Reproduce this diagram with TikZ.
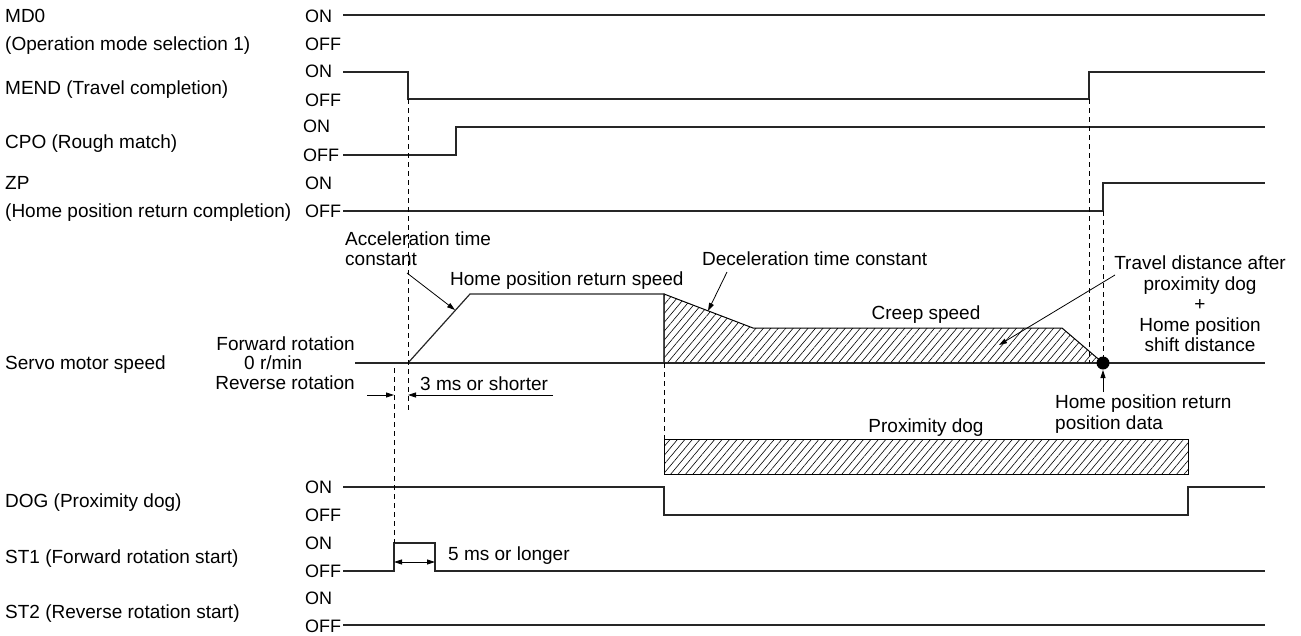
\documentclass[tikz,border=0pt]{standalone}
\usepackage{fontspec}
\setmainfont{Liberation Sans}
\usetikzlibrary{arrows.meta,patterns.meta}
\begin{document}
\begin{tikzpicture}[x=1pt,y=-1pt,
  txt/.style={font=\fontsize{19}{21}\selectfont, inner sep=0pt, anchor=base west},
  txte/.style={txt, anchor=base east},
  oo/.style={font=\fontsize{18}{20}\selectfont, inner sep=0pt, anchor=base west},
  sig/.style={line width=1.2pt, line join=miter, color=black!85},
  dsh/.style={line width=0.8pt, dash pattern=on 5pt off 4pt},
  hatch/.style={pattern={Lines[angle=50,distance=5.7pt,line width=0.6pt]}},
  arr/.style={line width=0.8pt, -{Triangle[length=8pt,width=5pt]}},
  darr/.style={line width=0.8pt, {Triangle[length=8pt,width=5pt]}-{Triangle[length=8pt,width=5pt]}}
]
\useasboundingbox (0,0) rectangle (1301,635);

% left labels
\node[txt] (lmd0) at (5,22) {MD0};
\node[txt] (lmd0b) at (5,50) {(Operation mode selection 1)};
\node[txt] (lmend) at (5,94) {MEND (Travel completion)};
\node[txt] (lcpo) at (5,148) {CPO (Rough match)};
\node[txt] (lzp) at (5,189) {ZP};
\node[txt] (lzpb) at (5,217) {(Home position return completion)};
\node[txt] (lspd) at (5,369) {Servo motor speed};
\node[txt] (ldog) at (5,507) {DOG (Proximity dog)};
\node[txt] (lst1) at (5,563) {ST1 (Forward rotation start)};
\node[txt] (lst2) at (5,618) {ST2 (Reverse rotation start)};

% ON / OFF
\node[oo] (on1) at (305,22) {ON};
\node[oo] (off1) at (305,50) {OFF};
\node[oo] (on2) at (305,77) {ON};
\node[oo] (off2) at (305,106) {OFF};
\node[oo] (on3) at (303,132) {ON};
\node[oo] (off3) at (303,161) {OFF};
\node[oo] (on4) at (305,189) {ON};
\node[oo] (off4) at (305,217) {OFF};
\node[oo] (on5) at (305,493) {ON};
\node[oo] (off5) at (305,521) {OFF};
\node[oo] (on6) at (305,549) {ON};
\node[oo] (off6) at (305,577) {OFF};
\node[oo] (on7) at (305,604) {ON};
\node[oo] (off7) at (305,632) {OFF};

% signals
\draw[sig] (343,15) -- (1265,15);
\draw[sig] (343,72) -- (408,72) -- (408,99) -- (1089,99) -- (1089,72) -- (1265,72);
\draw[sig] (343,155) -- (456,155) -- (456,127) -- (1265,127);
\draw[sig] (343,211) -- (1103,211) -- (1103,183) -- (1265,183);
\draw[sig] (343,487) -- (664,487) -- (664,515) -- (1188,515) -- (1188,487) -- (1265,487);
\draw[sig] (343,571) -- (394,571) -- (394,543) -- (435,543) -- (435,571) -- (1265,571);
\draw[sig] (343,625) -- (1265,625);

% speed profile
\draw[hatch, line width=1pt] (664,363) -- (664,294) -- (753,328) -- (1062,328) -- (1103,363) -- cycle;
\draw[sig] (355,363) -- (1265,363);
\draw[sig] (408,363) -- (470,294) -- (664,294) -- (664,363);
\fill (1103,363) circle (6.5pt);

% proximity dog
\draw[hatch, line width=1pt] (664,439) rectangle (1188,474);
\node[txt, anchor=base] (pdog) at (926,432) {Proximity dog};

% dashed guides
\draw[dsh] (408,99) -- (408,412);
\draw[dsh] (394,368) -- (394,543);
\draw[dsh] (664,363) -- (664,439);
\draw[dsh] (1089,99) -- (1089,363);
\draw[dsh] (1103,211) -- (1103,363);

% speed labels
\node[txte] (fwd) at (355,350) {Forward rotation};
\node[txt] (zero) at (244,369) {0 r/min};
\node[txte] (rev) at (355,389) {Reverse rotation};

% 3 ms
\coordinate (a3l) at (367,395);
\coordinate (a3r) at (553,395);
\draw[arr] (a3l) -- (394,395);
\draw[arr] (a3r) -- (408,395);
\node[txt] (t3) at (420,390) {3 ms or shorter};

% 5 ms
\draw[darr] (394,562) -- (435,562);
\node[txt] (t5) at (448,560) {5 ms or longer};

% annotations
\node[txt] (acc1) at (345,245) {Acceleration time};
\node[txt] (acc2) at (345,265) {constant};
\coordinate (accs) at (407,273);
\coordinate (acce) at (455,310);
\draw[arr] (accs) -- (acce);

\node[txt] (hprs) at (450,285) {Home position return speed};

\node[txt] (dec) at (702,265) {Deceleration time constant};
\coordinate (decs) at (727,272);
\coordinate (dece) at (708,311);
\draw[arr] (decs) -- (dece);

\node[txt, anchor=base] (creep) at (926,319) {Creep speed};

\node[font=\fontsize{19}{20.5}\selectfont, inner sep=0pt, align=center, anchor=north] (trav) at (1200,256)
  {Travel distance after\\proximity dog\\+\\Home position\\shift distance};
\coordinate (travs) at (1115,275);
\coordinate (trave) at (999,345);
\draw[arr] (travs) -- (trave);

\coordinate (hpds) at (1103,392);
\coordinate (hpde) at (1103,370);
\draw[arr] (hpds) -- (hpde);
\node[font=\fontsize{19}{20.5}\selectfont, inner sep=0pt, align=left, anchor=north west] (hpd) at (1055,395)
  {Home position return\\position data};
\end{tikzpicture}
\end{document}
